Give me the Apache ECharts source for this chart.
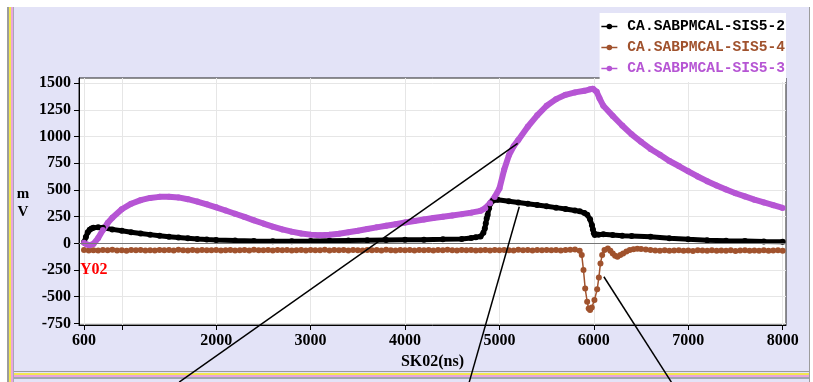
<!DOCTYPE html>
<html>
<head>
<meta charset="utf-8">
<script src="https://cdn.jsdelivr.net/npm/echarts@6/dist/echarts.min.js"></script>
<style>
  html, body { margin: 0; padding: 0; background: #fff; }
  #chart { width: 813px; height: 382px; }
</style>
</head>
<body>
<div id="chart"></div>
<script>
// Axis ticks and labels
const xTickValues = [600, 1000, 2000, 3000, 4000, 5000, 6000, 7000, 8000];
const xLabelValues = [600, 2000, 3000, 4000, 5000, 6000, 7000, 8000];
const yTickValues = [-750, -500, -250, 0, 250, 500, 750, 1000, 1250, 1500];

// Trace names
const nameSis52 = 'CA.SABPMCAL-SIS5-2';
const nameSis54 = 'CA.SABPMCAL-SIS5-4';
const nameSis53 = 'CA.SABPMCAL-SIS5-3';

// CA.SABPMCAL-SIS5-2 (mV vs ns)
const sis52Time = [600, 620, 640, 660, 680, 700, 750, 800,
  900, 1000, 1100, 1200, 1300, 1400, 1500, 1600, 1700, 1800, 1900, 2000,
  2200, 2400, 2600, 2800, 3000, 3200, 3400, 3600, 3800, 4000, 4200, 4400, 4600,
  4700, 4750, 4800, 4830, 4845, 4855, 4865, 4875, 4890, 4905, 4930, 4980,
  5100, 5200, 5300, 5400, 5500, 5600, 5700, 5800,
  5850, 5900, 5930, 5960, 5980, 5990, 6000, 6010, 6050, 6100,
  6200, 6300, 6400,
  6600, 6800, 7000, 7200, 7400, 7600, 7800, 8000];
const sis52Val = [10, 60, 105, 128, 140, 146, 150, 147,
  131, 118, 105, 93, 82, 72, 63, 56, 49, 42, 36, 31,
  26, 22, 20, 20, 22, 25, 27, 29, 31, 33, 35, 38, 42,
  50, 58, 65, 100, 140, 187, 234, 265, 330, 375, 400, 408,
  395, 384, 372, 360, 348, 335, 322, 308,
  300, 285, 268, 225, 170, 130, 95, 78, 82, 85,
  78, 72, 68,
  62, 48, 38, 30, 25, 22, 18, 15];

// CA.SABPMCAL-SIS5-4
const sis54Time = [
  600, 650, 700, 750, 800, 850, 900, 950, 1000, 1050,
  1100, 1150, 1200, 1250, 1300, 1350, 1400, 1450, 1500, 1550,
  1600, 1650, 1700, 1750, 1800, 1850, 1900, 1950, 2000, 2050,
  2100, 2150, 2200, 2250, 2300, 2350, 2400, 2450, 2500, 2550,
  2600, 2650, 2700, 2750, 2800, 2850, 2900, 2950, 3000, 3050,
  3100, 3150, 3200, 3250, 3300, 3350, 3400, 3450, 3500, 3550,
  3600, 3650, 3700, 3750, 3800, 3850, 3900, 3950, 4000, 4050,
  4100, 4150, 4200, 4250, 4300, 4350, 4400, 4450, 4500, 4550,
  4600, 4650, 4700, 4750, 4800, 4850, 4900, 4950, 5000, 5050,
  5100, 5150, 5200, 5250, 5300, 5350, 5400, 5450, 5500, 5550,
  5600, 5650, 5700, 5750, 5800,
  5850, 5872, 5890, 5908, 5929, 5945, 5960, 5978, 6006, 6035, 6053, 6070, 6088, 6113, 6148,
  6175, 6200, 6225, 6250, 6280, 6310, 6345, 6380, 6420, 6460, 6500, 6550, 6600,
  6650, 6700, 6750, 6800, 6850, 6900, 6950, 7000, 7050, 7100,
  7150, 7200, 7250, 7300, 7350, 7400, 7450, 7500, 7550, 7600,
  7650, 7700, 7750, 7800, 7850, 7900, 7950, 8000];
const sis54Val = [
  -62, -66, -64, -67, -63, -65, -60, -66, -64, -68,
  -63, -65, -61, -66, -64, -67, -62, -65, -63, -66,
  -60, -64, -66, -63, -67, -62, -65, -64, -61, -66,
  -64, -62, -67, -65, -63, -66, -60, -64, -65, -62,
  -66, -63, -65, -61, -67, -64, -62, -66, -63, -65,
  -64, -60, -66, -62, -65, -63, -67, -61, -64, -66,
  -62, -65, -63, -67, -60, -64, -66, -62, -65, -63,
  -66, -61, -64, -63, -67, -62, -65, -60, -64, -66,
  -63, -65, -62, -66, -64, -61, -67, -63, -65, -62,
  -64, -66, -60, -65, -63, -67, -62, -64, -61, -65,
  -63, -66, -62, -60, -58,
  -70, -110, -250, -422, -547, -610, -625, -600, -531, -431, -319, -188, -110, -63, -47,
  -70, -94, -115, -125, -110, -94, -75, -63, -55, -50, -52, -58, -62,
  -66, -68, -65, -70, -67, -64, -69, -66, -71, -65,
  -67, -69, -64, -70, -66, -68, -65, -71, -67, -64,
  -69, -66, -70, -65, -68, -67, -64, -69];

// CA.SABPMCAL-SIS5-3
const sis53Time = [600, 630, 660, 700, 750, 800, 850, 900,
  1000, 1100, 1200, 1300, 1400, 1500, 1600, 1700, 1800, 1900,
  2000, 2100, 2200, 2300, 2400, 2500, 2600, 2700, 2800, 2900,
  3000, 3100, 3200, 3300, 3400, 3500, 3600, 3700, 3800, 3900,
  4000, 4100, 4200, 4300, 4400, 4500, 4600, 4700, 4800,
  4850, 4900, 4950, 5000, 5050, 5100, 5150, 5200,
  5300, 5400, 5500, 5600, 5700, 5800, 5900,
  5960, 5990, 6030, 6060,
  6100, 6200, 6300, 6400, 6500, 6600, 6700, 6800, 6900, 7000,
  7100, 7200, 7300, 7400, 7500, 7600, 7700, 7800, 7900, 8000];
const sis53Val = [5, -10, -18, -5, 50, 125, 190, 240,
  320, 372, 405, 426, 436, 438, 431, 414, 392, 366,
  338, 308, 278, 248, 216, 186, 157, 131, 110, 93,
  82, 77, 80, 90, 104, 119, 135, 150, 165, 180,
  195, 210, 224, 237, 250, 262, 274, 288, 305,
  330, 375, 435, 515, 690, 825, 910, 970,
  1093, 1200, 1290, 1352, 1392, 1415, 1430,
  1444, 1450, 1420, 1360,
  1290, 1195, 1105, 1022, 952, 885, 830, 772, 725, 676,
  627, 583, 543, 505, 470, 440, 410, 384, 358, 332];

// Leader lines drawn from below the frame to points on the traces (data units)
const calloutFrom = [[1608, -1300], [4680, -1300], [6821, -1300]];
const calloutTo = [[5193, 937], [5210, 343], [6106, -313]];

const colBlack = '#000000';
const colBrown = '#a0522d';
const colPurple = '#b655d4';
const labelFont = 'Liberation Serif';

function zip(t, v) { return t.map((x, i) => [x, v[i]]); }
function plainNumber(v) { return String(v); }

function trace(name, times, values, color, width, size, extra) {
  return Object.assign({
    name: name,
    type: 'line',
    data: zip(times, values),
    symbol: 'circle',
    symbolSize: size,
    showSymbol: true,
    animation: false,
    silent: true,
    color: color,
    itemStyle: { color: color },
    lineStyle: { color: color, width: width }
  }, extra || {});
}

const series = [
  trace(nameSis52, sis52Time, sis52Val, colBlack, 5, 6, {
    markLine: {
      silent: true,
      symbol: ['none', 'none'],
      label: { show: false },
      lineStyle: { color: '#777', width: 1, type: 'solid' },
      data: [{ yAxis: 0 }],
      animation: false
    }
  }),
  trace(nameSis54, sis54Time, sis54Val, colBrown, 1.5, 6),
  trace(nameSis53, sis53Time, sis53Val, colPurple, 6, 6)
];

calloutFrom.forEach((p, i) => {
  series.push({
    type: 'line',
    data: [p, calloutTo[i]],
    symbol: 'none',
    clip: false,
    silent: true,
    animation: false,
    z: 10,
    lineStyle: { color: '#000', width: 1.5 }
  });
});

const chart = echarts.init(document.getElementById('chart'), null, { renderer: 'canvas' });

chart.setOption({
  backgroundColor: '#ffffff',
  animation: false,
  graphic: [
    // window panel and its edge stripes
    { type: 'rect', z: -10, shape: { x: 7, y: 7, width: 803, height: 375 }, style: { fill: '#e3e3f7' } },
    { type: 'rect', z: -9, shape: { x: 7, y: 7, width: 2, height: 375 }, style: { fill: '#9c9c9c' } },
    { type: 'rect', z: -9, shape: { x: 9, y: 7, width: 2, height: 375 }, style: { fill: '#f2e650' } },
    { type: 'rect', z: -9, shape: { x: 11, y: 7, width: 2, height: 375 }, style: { fill: '#eaa6dc' } },
    { type: 'rect', z: -9, shape: { x: 13, y: 7, width: 1, height: 375 }, style: { fill: '#a8a8b8' } },
    { type: 'rect', z: -9, shape: { x: 14, y: 371, width: 796, height: 1 }, style: { fill: '#9c9c9c' } },
    { type: 'rect', z: -9, shape: { x: 14, y: 373, width: 796, height: 2 }, style: { fill: '#f2e650' } },
    { type: 'rect', z: -9, shape: { x: 14, y: 375, width: 796, height: 2 }, style: { fill: '#eaa6dc' } },
    { type: 'rect', z: -9, shape: { x: 14, y: 377, width: 796, height: 2 }, style: { fill: '#a0a8b0' } },
    { type: 'rect', z: -9, shape: { x: 809, y: 7, width: 1, height: 375 }, style: { fill: '#9c9c9c' } },
    // unit of the value axis
    {
      type: 'text', z: 20, x: 23, y: 203,
      style: {
        text: 'm\nV', fill: '#000', font: 'bold 15px "Liberation Serif"',
        align: 'center', verticalAlign: 'middle', lineHeight: 18
      }
    },
    // axis identifier
    {
      type: 'text', z: 20, x: 80, y: 270,
      style: {
        text: 'Y02', fill: '#ff0000', font: 'bold 16px "Liberation Serif"',
        align: 'left', verticalAlign: 'middle'
      }
    }
  ],
  grid: {
    left: 79, top: 78, right: 27, bottom: 57,
    show: true, backgroundColor: '#ffffff', borderColor: '#222', borderWidth: 1
  },
  legend: {
    data: [
      { name: nameSis52, textStyle: { color: colBlack } },
      { name: nameSis54, textStyle: { color: colBrown } },
      { name: nameSis53, textStyle: { color: colPurple } }
    ],
    orient: 'vertical',
    right: 27, top: 13,
    backgroundColor: '#ffffff',
    padding: [3, 1, 3, 1],
    itemGap: 0,
    itemWidth: 16,
    itemHeight: 7,
    selectedMode: false,
    lineStyle: { width: 1.5 },
    textStyle: {
      fontFamily: 'Liberation Mono', fontWeight: 'bold', fontSize: 14.6,
      lineHeight: 13, padding: [0, 0, 8, 5]
    }
  },
  xAxis: {
    type: 'value', min: 547, max: 8035,
    name: 'SK02(ns)', nameLocation: 'middle', nameGap: 28,
    nameTextStyle: { fontFamily: labelFont, fontWeight: 'bold', fontSize: 16, color: '#000' },
    axisLine: { show: true, onZero: false, lineStyle: { color: '#000', width: 1 } },
    axisTick: { show: true, length: 5, customValues: xTickValues, lineStyle: { color: '#000' } },
    axisLabel: {
      customValues: xLabelValues, formatter: plainNumber, margin: 8,
      fontFamily: labelFont, fontWeight: 'bold', fontSize: 16, color: '#000'
    },
    splitLine: { show: true, lineStyle: { color: '#e6e6e6', width: 1 } }
  },
  yAxis: {
    type: 'value', min: -765, max: 1550,
    axisLine: { show: true, onZero: false, lineStyle: { color: '#000', width: 1 } },
    axisTick: { show: true, length: 5, customValues: yTickValues, lineStyle: { color: '#000' } },
    axisLabel: {
      customValues: yTickValues, formatter: plainNumber, margin: 8,
      fontFamily: labelFont, fontWeight: 'bold', fontSize: 16, color: '#000'
    },
    splitLine: { show: true, lineStyle: { color: '#e6e6e6', width: 1 } }
  },
  series: series
});
</script>
</body>
</html>
